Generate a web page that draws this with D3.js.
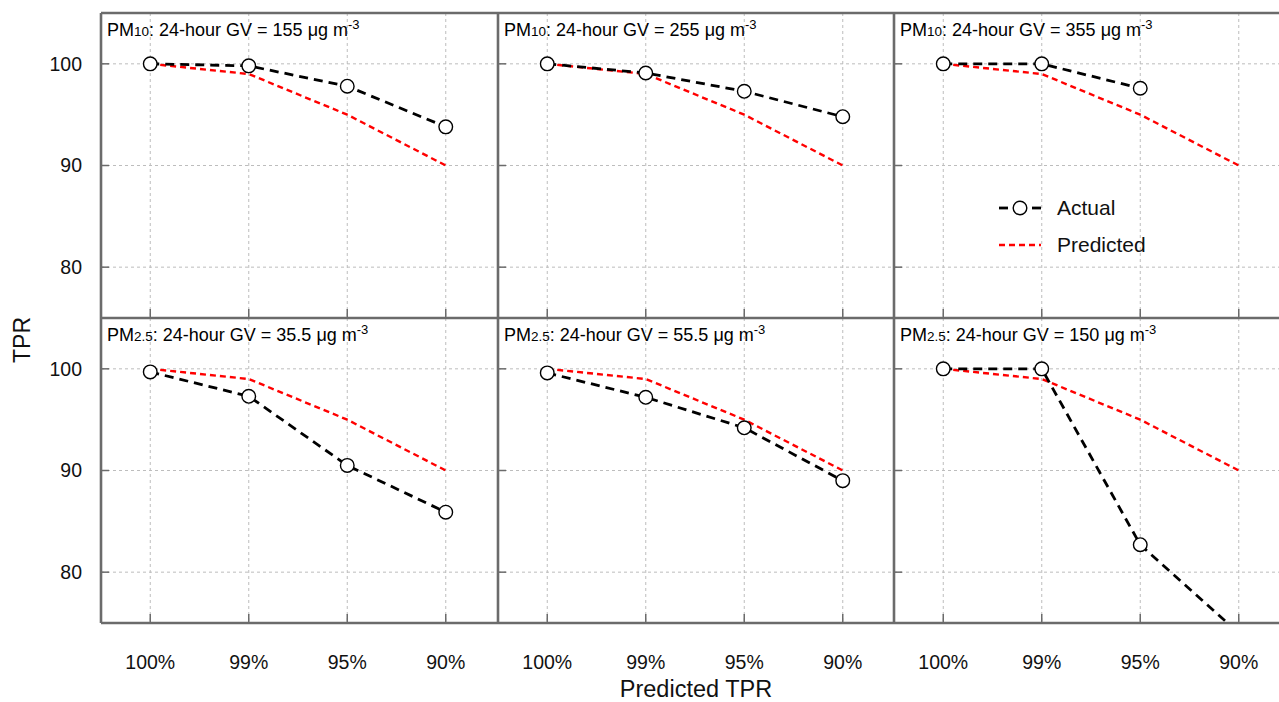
<!DOCTYPE html>
<html>
<head>
<meta charset="utf-8">
<script src="https://cdn.jsdelivr.net/npm/d3@7"></script>
<style>
  html, body { margin: 0; padding: 0; background: #fff; }
  svg { display: block; font-family: "Liberation Sans", Arial, sans-serif; }
</style>
</head>
<body>
<svg id="chart" width="1279" height="702"></svg>
<script>
// Predicted TPR categories shared by every panel
const categories = ["100%", "99%", "95%", "90%"];
const yTicks = [80, 90, 100];

// Predicted TPR as a number (same for all panels)
const predicted = [100, 99, 95, 90];

// Panel labels: pollutant, its subscript and the 24-hour guideline value
const pollutants = ["PM", "PM", "PM", "PM", "PM", "PM"];
const pollutantSubs = ["10", "10", "10", "2.5", "2.5", "2.5"];
const guidelineValues = ["155", "255", "355", "35.5", "55.5", "150"];

// Actual TPR for each panel (null = no value)
const actualPM10_155 = [100, 99.8, 97.8, 93.8];
const actualPM10_255 = [100, 99.1, 97.3, 94.8];
const actualPM10_355 = [100, 100, 97.6, null];
const actualPM25_35 = [99.7, 97.3, 90.5, 85.9];
const actualPM25_55 = [99.6, 97.2, 94.2, 89.0];
const actualPM25_150 = [100, 100, 82.7, 74.0];
const actuals = [actualPM10_155, actualPM10_255, actualPM10_355, actualPM25_35, actualPM25_55, actualPM25_150];

const svg = d3.select("#chart");
const frameColor = "#6b6b6b";

const panelLefts = [101, 498, 894];
const panelTops = [13, 318];
const panelW = 396, panelH = 305;

const x = d3.scalePoint().domain(categories).range([0, 394]).padding(0.5);
const y = d3.scaleLinear().domain([75, 105]).range([panelH, 0]);

const defs = svg.append("defs");

actuals.forEach((actual, i) => {
  const col = i % 3, row = Math.floor(i / 3);
  const g = svg.append("g").attr("transform", `translate(${panelLefts[col]},${panelTops[row]})`);
  const clipId = "clip" + i;
  defs.append("clipPath").attr("id", clipId)
    .append("rect").attr("x", 0).attr("y", 0).attr("width", panelW).attr("height", panelH);

  // grid
  const grid = g.append("g").attr("stroke", "#bdbdbd").attr("stroke-width", 1).attr("stroke-dasharray", "3,3");
  grid.selectAll("line.v").data(categories).join("line")
    .attr("x1", d => x(d)).attr("x2", d => x(d)).attr("y1", 0).attr("y2", panelH);
  grid.selectAll("line.h").data(yTicks).join("line")
    .attr("x1", 0).attr("x2", panelW).attr("y1", d => y(d)).attr("y2", d => y(d));

  // inward ticks
  g.append("g").attr("stroke", "#6b6b6b").attr("stroke-width", 1.5)
    .selectAll("line").data(yTicks).join("line")
    .attr("x1", 0).attr("x2", 8).attr("y1", d => y(d)).attr("y2", d => y(d));
  g.append("g").attr("stroke", "#6b6b6b").attr("stroke-width", 1.5)
    .selectAll("line").data(categories).join("line")
    .attr("x1", d => x(d)).attr("x2", d => x(d)).attr("y1", panelH).attr("y2", panelH - 9);

  const plot = g.append("g").attr("clip-path", `url(#${clipId})`);
  const line = d3.line()
    .defined(d => d.v != null)
    .x(d => x(d.c)).y(d => y(d.v));

  const predData = categories.map((c, k) => ({ c, v: predicted[k] }));
  const actData = categories.map((c, k) => ({ c, v: actual[k] }));

  plot.append("path").datum(predData).attr("d", line)
    .attr("fill", "none").attr("stroke", "#ff0000").attr("stroke-width", 2.4)
    .attr("stroke-dasharray", "6,4");
  plot.append("path").datum(actData).attr("d", line)
    .attr("fill", "none").attr("stroke", "#000").attr("stroke-width", 2.8)
    .attr("stroke-dasharray", "9,6");
  plot.selectAll("circle").data(actData.filter(d => d.v != null && d.v >= 75)).join("circle")
    .attr("cx", d => x(d.c)).attr("cy", d => y(d.v)).attr("r", 6.8)
    .attr("fill", "#fff").attr("stroke", "#000").attr("stroke-width", 1.4);

  // panel title
  const t = g.append("text").attr("x", 6).attr("y", 23)
    .attr("font-size", 18).attr("fill", "#000");
  t.append("tspan").text(pollutants[i]);
  t.append("tspan").attr("font-size", 13.5).text(pollutantSubs[i]);
  t.append("tspan").text(`: 24-hour GV = ${guidelineValues[i]} `);
  t.append("tspan").text("\u03bcg m");
  t.append("tspan").attr("font-size", 13).attr("dy", -7).text("-3");
});

// frame
const frame = svg.append("g").attr("stroke", frameColor).attr("stroke-width", 2.6).attr("fill", "none");
frame.append("line").attr("x1", 101).attr("x2", 1279).attr("y1", 13).attr("y2", 13);
frame.append("line").attr("x1", 101).attr("x2", 1279).attr("y1", 318).attr("y2", 318);
frame.append("line").attr("x1", 101).attr("x2", 1279).attr("y1", 623).attr("y2", 623);
[101, 498, 894].forEach(xx =>
  frame.append("line").attr("x1", xx).attr("x2", xx).attr("y1", 13).attr("y2", 623));

// y tick labels
panelTops.forEach(top => {
  svg.append("g").selectAll("text").data(yTicks).join("text")
    .attr("x", 82).attr("y", d => top + y(d)).attr("dy", "0.35em")
    .attr("text-anchor", "end").attr("font-size", 19.5).attr("fill", "#111")
    .text(d => d);
});

// x tick labels
panelLefts.forEach(left => {
  svg.append("g").selectAll("text").data(categories).join("text")
    .attr("x", d => left + x(d)).attr("y", 662).attr("dy", "0.35em")
    .attr("text-anchor", "middle").attr("font-size", 19.5).attr("fill", "#111")
    .text(d => d);
});

// axis titles
svg.append("text").attr("x", 696).attr("y", 689).attr("dy", "0.35em")
  .attr("text-anchor", "middle").attr("font-size", 23.5).attr("fill", "#111")
  .text("Predicted TPR");
svg.append("text").attr("transform", "translate(22,340) rotate(-90)").attr("dy", "0.35em")
  .attr("text-anchor", "middle").attr("font-size", 23).attr("fill", "#111")
  .text("TPR");

// legend
const lg = svg.append("g");
lg.append("line").attr("x1", 999).attr("x2", 1008).attr("y1", 208).attr("y2", 208)
  .attr("stroke", "#000").attr("stroke-width", 2.8);
lg.append("line").attr("x1", 1032).attr("x2", 1041).attr("y1", 208).attr("y2", 208)
  .attr("stroke", "#000").attr("stroke-width", 2.8);
lg.append("circle").attr("cx", 1020).attr("cy", 208).attr("r", 6.8)
  .attr("fill", "#fff").attr("stroke", "#000").attr("stroke-width", 1.4);
lg.append("line").attr("x1", 999).attr("x2", 1041).attr("y1", 245).attr("y2", 245)
  .attr("stroke", "#ff0000").attr("stroke-width", 2.4).attr("stroke-dasharray", "6,4");
lg.append("text").attr("x", 1057).attr("y", 208).attr("dy", "0.35em")
  .attr("font-size", 21).attr("fill", "#111").text("Actual");
lg.append("text").attr("x", 1057).attr("y", 245).attr("dy", "0.35em")
  .attr("font-size", 21).attr("fill", "#111").text("Predicted");
</script>
</body>
</html>
